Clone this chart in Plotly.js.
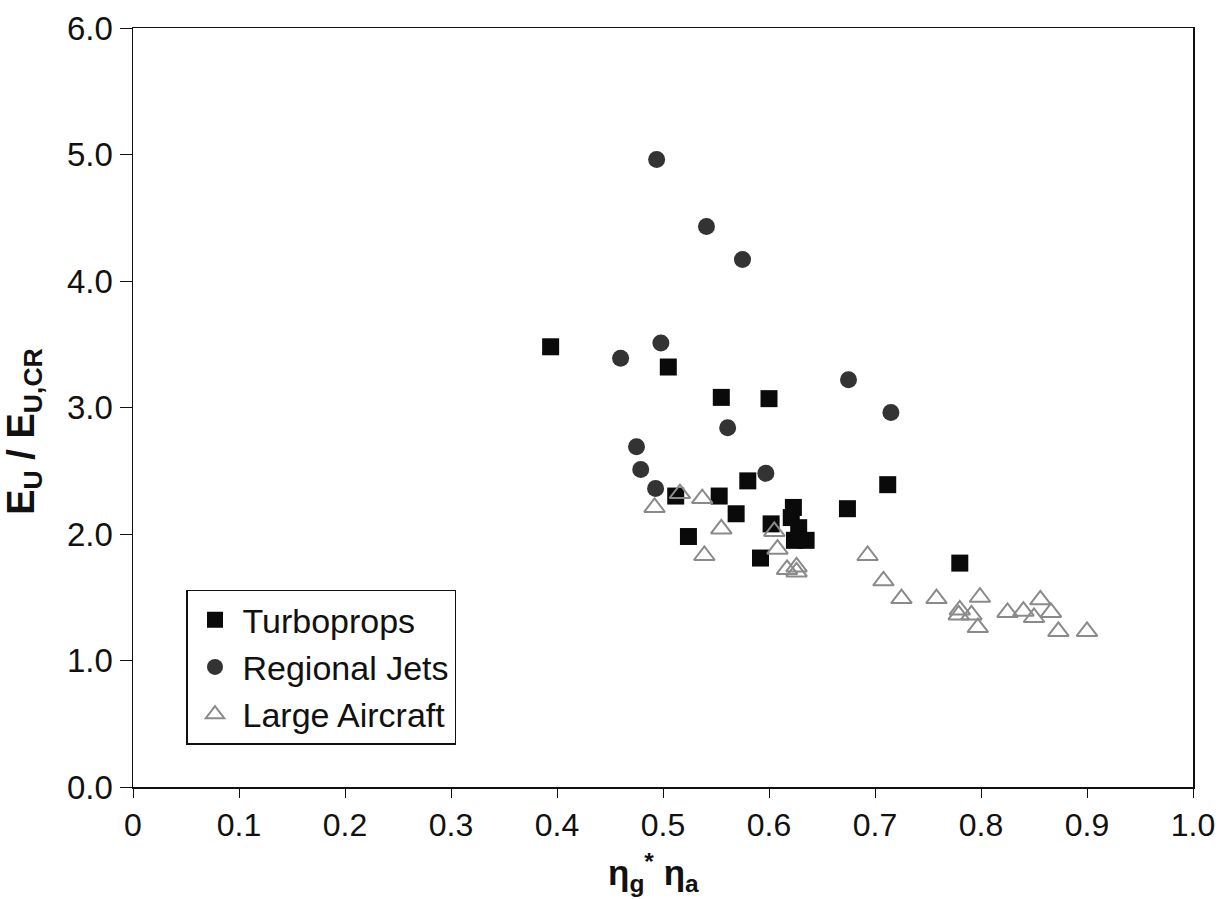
<!DOCTYPE html>
<html>
<head>
<meta charset="utf-8">
<script src="https://cdn.plot.ly/plotly-3.0.1.min.js"></script>
<style>html,body{margin:0;padding:0;background:#fff;}#chart{width:1225px;height:899px;}</style>
</head>
<body>
<div id="chart"></div>
<script>
// Turboprops
const turboX = [0.394, 0.505, 0.555, 0.600, 0.580, 0.512, 0.553, 0.569, 0.524, 0.592, 0.602, 0.623, 0.621, 0.628, 0.624, 0.635, 0.674, 0.712, 0.780];
const turboY = [3.48, 3.32, 3.08, 3.07, 2.42, 2.30, 2.30, 2.16, 1.98, 1.81, 2.08, 2.21, 2.13, 2.05, 1.95, 1.95, 2.20, 2.39, 1.77];
// Regional Jets
const jetX = [0.494, 0.541, 0.575, 0.498, 0.460, 0.561, 0.475, 0.675, 0.715, 0.479, 0.493, 0.597];
const jetY = [4.96, 4.43, 4.17, 3.51, 3.39, 2.84, 2.69, 3.22, 2.96, 2.51, 2.36, 2.48];
// Large Aircraft
const largeX = [0.492, 0.516, 0.537, 0.555, 0.539, 0.605, 0.608, 0.617, 0.626, 0.626, 0.693, 0.708, 0.725, 0.758, 0.780, 0.779, 0.791, 0.799, 0.797, 0.825, 0.840, 0.856, 0.850, 0.866, 0.873, 0.900];
const largeY = [2.21, 2.32, 2.28, 2.04, 1.83, 2.02, 1.88, 1.72, 1.74, 1.70, 1.83, 1.63, 1.49, 1.49, 1.40, 1.36, 1.36, 1.50, 1.26, 1.38, 1.39, 1.48, 1.34, 1.38, 1.23, 1.23];
// Tick labels
const xTickVals = [0, 0.1, 0.2, 0.3, 0.4, 0.5, 0.6, 0.7, 0.8, 0.9, 1.0];
const xTickText = ["0", "0.1", "0.2", "0.3", "0.4", "0.5", "0.6", "0.7", "0.8", "0.9", "1.0"];
const yTickVals = [0, 1, 2, 3, 4, 5, 6];
const yTickText = ["0.0", "1.0", "2.0", "3.0", "4.0", "5.0", "6.0"];
// Axis titles
const xTitle = "<b>η<sub>g</sub><sup>*</sup> η<sub>a</sub></b>";
const yTitle = "<b>E<sub>U</sub> / E<sub>U,CR</sub></b>";

const traces = [
  {x: turboX, y: turboY, name: "Turboprops", type: "scatter", mode: "markers",
   marker: {symbol: "square", size: 17, color: "#0a0a0a"}},
  {x: jetX, y: jetY, name: "Regional Jets", type: "scatter", mode: "markers",
   marker: {symbol: "circle", size: 17, color: "#333333"}},
  {x: largeX, y: largeY, name: "Large Aircraft", type: "scatter", mode: "markers",
   marker: {symbol: "triangle-up-open", size: 18, color: "#8a8a8a", line: {width: 2, color: "#8a8a8a"}}}
];

const layout = {
  width: 1225, height: 899,
  margin: {l: 133, r: 32, t: 28, b: 112},
  paper_bgcolor: "#fff", plot_bgcolor: "#fff",
  font: {family: "Liberation Sans, Arial, sans-serif", color: "#111"},
  showlegend: true,
  legend: {x: 0.05, y: 0.26, xanchor: "left", yanchor: "top", bordercolor: "#111", borderwidth: 1.5,
           bgcolor: "#fff", font: {size: 34, color: "#111"}, itemsizing: "trace", tracegroupgap: 0,
           itemwidth: 45},
  xaxis: {range: [0, 1.0], tickvals: xTickVals, ticktext: xTickText, ticks: "outside", ticklen: 9,
          tickcolor: "#111", showline: true, linecolor: "#111", linewidth: 1.5, mirror: true,
          showgrid: false, zeroline: false,
          tickfont: {size: 32}},
  yaxis: {range: [0, 6.0], tickvals: yTickVals, ticktext: yTickText, ticks: "outside", ticklen: 12,
          tickcolor: "#111", showline: true, linecolor: "#111", linewidth: 1.5, mirror: true,
          showgrid: false, zeroline: false,
          tickfont: {size: 33}},
  annotations: [
    {text: xTitle, xref: "paper", yref: "paper", x: 0.4906, y: -0.113, xanchor: "center", yanchor: "middle",
     showarrow: false, font: {size: 35, color: "#111"}},
    {text: yTitle, xref: "paper", yref: "paper", x: 0, xshift: -109, y: 0.468, xanchor: "center", yanchor: "middle",
     textangle: -90, showarrow: false, font: {size: 38, color: "#111"}}
  ]
};

Plotly.newPlot("chart", traces, layout, {displayModeBar: false, staticPlot: true});
</script>
</body>
</html>
